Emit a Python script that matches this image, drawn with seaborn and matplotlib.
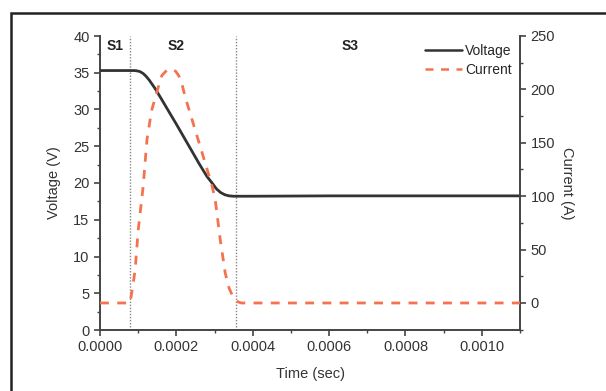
import matplotlib
matplotlib.use("Agg")
import matplotlib.pyplot as plt
import seaborn as sns
import pandas as pd
from matplotlib.patches import Rectangle
from matplotlib.lines import Line2D
from matplotlib.ticker import MultipleLocator, FormatStrFormatter

# Data
volt_t = [0.0, 0.00007, 0.000088, 0.000095, 0.000105, 0.000113, 0.000121, 0.000129,
          0.000137, 0.000145, 0.00016, 0.00018, 0.0002, 0.00022, 0.00024,
          0.00026, 0.00028, 0.000295, 0.000305, 0.000316, 0.000327, 0.000338,
          0.00035, 0.0004, 0.0006, 0.0008, 0.0011]
volt_v = [35.3, 35.3, 35.3, 35.28, 35.15, 34.9, 34.5, 34.0,
          33.4, 32.8, 31.5, 29.75, 28.0, 26.2, 24.4,
          22.6, 20.9, 19.9, 19.2, 18.7, 18.4, 18.25,
          18.2, 18.2, 18.25, 18.25, 18.25]

curr_t = [0.0, 0.0000787, 0.000081, 0.000086, 0.000092, 0.0001, 0.000107, 0.000113,
          0.000123, 0.000135, 0.00015, 0.000162, 0.000175, 0.000189, 0.000198,
          0.000206, 0.000214, 0.000223, 0.000245, 0.000268, 0.000294,
          0.000302, 0.000315, 0.000328, 0.000338, 0.000346, 0.000354, 0.000362,
          0.00037, 0.0004, 0.0011]
curr_i = [0.0, 0.0, 5.0, 16.0, 31.0, 68.0, 90.0, 109.0,
          153.0, 180.0, 199.0, 213.0, 218.0, 219.0, 217.0,
          213.0, 206.0, 193.0, 167.0, 140.0, 109.0,
          96.0, 59.0, 28.0, 14.0, 7.5, 3.0, 1.0,
          0.0, 0.0, 0.0]

phase_bounds = [0.0000787, 0.000357]
phase_labels = ["S1", "S2", "S3"]
phase_label_t = [0.000039, 0.0002, 0.000655]

volt_df = pd.DataFrame({"t": volt_t, "v": volt_v})
curr_df = pd.DataFrame({"t": curr_t, "i": curr_i})

sns.set_style("ticks")
plt.rcParams["font.family"] = ["Liberation Sans", "DejaVu Sans"]

fig = plt.figure(figsize=(6.06, 3.91), dpi=100)
ax = fig.add_axes([100/606, 1-330/391, 420/606, 294/391])
ax2 = ax.twinx()

vcol = "#333333"
ccol = "#f4734f"

sns.lineplot(data=volt_df, x="t", y="v", ax=ax, color=vcol, lw=2.0, zorder=3)
sns.lineplot(data=curr_df, x="t", y="i", ax=ax2, color=ccol, lw=2.0,
             dashes=False, zorder=3)
ax2.lines[0].set_dashes([3.2, 3])

for b in phase_bounds:
    ax.axvline(b, color="#888888", lw=1.0, ls=(0, (1, 1.2)), zorder=1)

for lab, t in zip(phase_labels, phase_label_t):
    ax.text(t, 38.6, lab, ha="center", va="center", fontsize=10,
            fontweight="bold", color="#222222")

ax.set_xlim(0, 0.0011)
ax.set_ylim(0, 40)

ax.xaxis.set_major_locator(MultipleLocator(0.0002))
ax.xaxis.set_minor_locator(MultipleLocator(0.0001))
ax.xaxis.set_major_formatter(FormatStrFormatter("%.4f"))
ax.yaxis.set_major_locator(MultipleLocator(5))
ax.yaxis.set_minor_locator(MultipleLocator(2.5))
ax2.yaxis.set_minor_locator(MultipleLocator(25))
ax2.set_yticks([0, 50, 100, 150, 200, 250])
ax2.set_ylim(-25.3, 250)

for a in (ax, ax2):
    a.spines["top"].set_visible(False)
    for s in a.spines.values():
        s.set_color("#444444")
        s.set_linewidth(1.4)
    a.tick_params(which="major", direction="out", length=4, width=1.2,
                  colors="#444444", labelcolor="#333333", labelsize=10.5)
    a.tick_params(which="minor", direction="out", length=2.5, width=1.0,
                  colors="#444444")
ax.spines["right"].set_visible(False)
ax2.spines["left"].set_visible(False)
ax2.spines["bottom"].set_visible(False)

ax.set_xlabel("Time (sec)", fontsize=10.5, color="#333333", labelpad=9)
ax.set_ylabel("Voltage (V)", fontsize=10.5, color="#333333", labelpad=9)
ax2.set_ylabel("Current (A)", fontsize=10.5, color="#333333", rotation=-90,
               labelpad=14)

handles = [Line2D([], [], color=vcol, lw=1.8),
           Line2D([], [], color=ccol, lw=1.8, dashes=[3.2, 3])]
ax.legend(handles, ["Voltage", "Current"], loc="upper right",
          bbox_to_anchor=(1.0, 1.0), frameon=False, fontsize=10,
          handlelength=2.7, handletextpad=0.2, labelspacing=0.3,
          borderaxespad=0.2)

fig.patches.append(Rectangle((11/606, -0.2), 1.2, 1.2 - 13/391,
                             transform=fig.transFigure, fill=False,
                             edgecolor="#222222", lw=1.8, zorder=10))

fig.savefig("out.png", dpi=100)
